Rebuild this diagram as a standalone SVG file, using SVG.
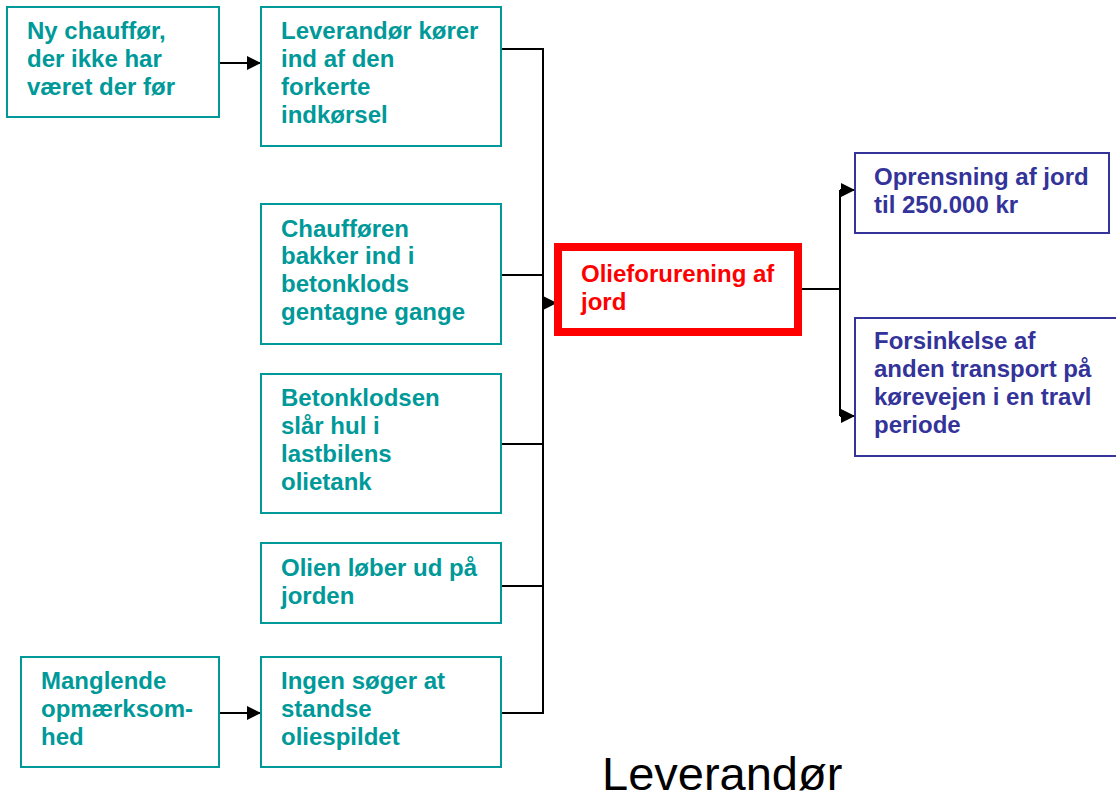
<svg xmlns="http://www.w3.org/2000/svg" width="1116" height="801" viewBox="0 0 1116 801">
<style>
.box{fill:#fff;stroke:#009999;stroke-width:2}
.bbox{fill:#fff;stroke:#333399;stroke-width:2}
.rbox{fill:#fff;stroke:#ff0000;stroke-width:8}
.t{font-family:"Liberation Sans",Arial,sans-serif;font-weight:bold;font-size:24px;fill:#009999}
.tb{fill:#333399}
.tr{fill:#ff0000}
.c{fill:none;stroke:#000;stroke-width:2}
</style>
<defs>
<marker id="ah" viewBox="0 0 14 14" refX="14" refY="7" markerWidth="14" markerHeight="14" markerUnits="userSpaceOnUse" orient="auto">
<path d="M0,0 L14,7 L0,14 z" fill="#000"/>
</marker>
</defs>
<g id="connectors">
<path class="c" d="M219 63 H261" marker-end="url(#ah)"/>
<path class="c" d="M219 713 H261" marker-end="url(#ah)"/>
<path class="c" d="M501 49 H543 V713 H501"/>
<path class="c" d="M501 275 H543"/>
<path class="c" d="M501 444 H543"/>
<path class="c" d="M501 586 H543"/>
<path class="c" d="M543 303 H557" marker-end="url(#ah)"/>
<path class="c" d="M800 289 H840"/>
<path class="c" d="M840 190 V416"/>
<path class="c" d="M840 190 H855" marker-end="url(#ah)"/>
<path class="c" d="M840 416 H855" marker-end="url(#ah)"/>
</g>
<g id="n1">
<rect class="box" x="7" y="7" width="212" height="110"/>
<text class="t"><tspan x="27" y="39">Ny chauffør,</tspan><tspan x="27" y="67">der ikke har</tspan><tspan x="27" y="95">været der før</tspan></text>
</g>
<g id="n2">
<rect class="box" x="261" y="7" width="240" height="139"/>
<text class="t"><tspan x="281" y="39">Leverandør kører</tspan><tspan x="281" y="67">ind af den</tspan><tspan x="281" y="95">forkerte</tspan><tspan x="281" y="123">indkørsel</tspan></text>
</g>
<g id="n3">
<rect class="box" x="261" y="204" width="240" height="140"/>
<text class="t"><tspan x="281" y="237">Chaufføren</tspan><tspan x="281" y="264">bakker ind i</tspan><tspan x="281" y="292">betonklods</tspan><tspan x="281" y="320">gentagne gange</tspan></text>
</g>
<g id="n4">
<rect class="box" x="261" y="374" width="240" height="139"/>
<text class="t"><tspan x="281" y="406">Betonklodsen</tspan><tspan x="281" y="434">slår hul i</tspan><tspan x="281" y="462">lastbilens</tspan><tspan x="281" y="490">olietank</tspan></text>
</g>
<g id="n5">
<rect class="box" x="261" y="543" width="240" height="80"/>
<text class="t"><tspan x="281" y="576">Olien løber ud på</tspan><tspan x="281" y="604">jorden</tspan></text>
</g>
<g id="n6">
<rect class="box" x="21" y="657" width="198" height="110"/>
<text class="t"><tspan x="41" y="689">Manglende</tspan><tspan x="41" y="717">opmærksom-</tspan><tspan x="41" y="745">hed</tspan></text>
</g>
<g id="n7">
<rect class="box" x="261" y="657" width="240" height="110"/>
<text class="t"><tspan x="281" y="689">Ingen søger at</tspan><tspan x="281" y="717">standse</tspan><tspan x="281" y="745">oliespildet</tspan></text>
</g>
<g id="n8">
<rect class="rbox" x="558" y="247" width="240" height="85"/>
<text class="t tr"><tspan x="581" y="282">Olieforurening af</tspan><tspan x="581" y="310">jord</tspan></text>
</g>
<g id="n9">
<rect class="bbox" x="855" y="153" width="254" height="80"/>
<text class="t tb"><tspan x="874" y="185">Oprensning af jord</tspan><tspan x="874" y="213">til 250.000 kr</tspan></text>
</g>
<g id="n10">
<rect class="bbox" x="855" y="318" width="270" height="138"/>
<text class="t tb"><tspan x="874" y="349">Forsinkelse af</tspan><tspan x="874" y="377">anden transport på</tspan><tspan x="874" y="405">kørevejen i en travl</tspan><tspan x="874" y="433">periode</tspan></text>
</g>
<text x="602" y="790" font-family="Liberation Sans,Arial,sans-serif" font-size="47" fill="#000">Leverandør</text>
</svg>
